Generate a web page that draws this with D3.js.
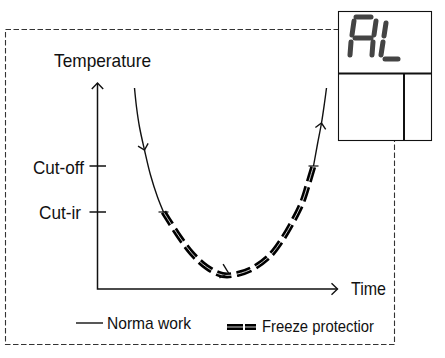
<!DOCTYPE html>
<html>
<head>
<meta charset="utf-8">
<script src="https://cdn.jsdelivr.net/npm/d3@7"></script>
<style>
  html, body { margin: 0; padding: 0; background: #fff; }
  svg { display: block; }
  text { font-family: "Liberation Sans", Arial, sans-serif; fill: #111; }
</style>
</head>
<body>
<svg class="chart"></svg>
<script>
// curve: [time, temperature], axis origin = 0,0
const normalCool = [[37, 201], [39, 182], [42, 162], [47, 139], [53, 114], [60, 92], [66, 77]];
const freezeCool = [[66, 77], [71, 69], [82, 52], [94, 36], [109, 22], [125, 14], [140, 15]];
const freezeHeat = [[140, 15], [156, 21], [173, 34], [185, 50], [195, 67], [204, 85], [210, 103], [216, 123]];
const normalHeat = [[216, 123], [220, 145], [224, 166], [227, 186], [229, 201]];
const tempTicks = [{ label: "Cut-off", value: 123 }, { label: "Cut-ir", value: 77 }];

const width = 445;
const height = 358;

const svg = d3.select('.chart')
    .attr('width', width)
    .attr('height', height);

const x = d3.scaleLinear().domain([0, 240]).range([97.5, 337.5]);
const y = d3.scaleLinear().domain([0, 206]).range([289, 83]);

const line = d3.line()
    .x(d => x(d[0]))
    .y(d => y(d[1]))
    .curve(d3.curveCatmullRom);

// dashed outer frame
svg.append('rect')
    .attr('x', 5.5).attr('y', 29.5)
    .attr('width', 389).attr('height', 315)
    .attr('fill', 'none')
    .attr('stroke', '#333')
    .attr('stroke-width', 1.1)
    .attr('stroke-dasharray', '5.5 2.5');

// axes
const axisColor = '#111';
svg.append('path')
    .attr('d', `M${x(0)},${y(206)}V${y(0)}H${x(240)}`)
    .attr('fill', 'none')
    .attr('stroke', axisColor)
    .attr('stroke-width', 1.5);

function chevron(px, py, angle, size) {
    svg.append('path')
        .attr('d', `M${-size},${-size * 0.95}L0,0L${-size},${size * 0.95}`)
        .attr('transform', `translate(${px},${py}) rotate(${angle})`)
        .attr('fill', 'none')
        .attr('stroke', axisColor)
        .attr('stroke-width', 1.4);
}
chevron(x(0), y(206), -90, 6);
chevron(x(240), y(0), 0, 6);

tempTicks.forEach(t => {
    svg.append('line')
        .attr('x1', x(0) - 8).attr('x2', x(0) + 8.5)
        .attr('y1', y(t.value)).attr('y2', y(t.value))
        .attr('stroke', axisColor)
        .attr('stroke-width', 1.5);
});

// normal work
[normalCool, normalHeat].forEach(d => {
    svg.append('path')
        .attr('d', line(d))
        .attr('fill', 'none')
        .attr('stroke', '#111')
        .attr('stroke-width', 1.4);
});

// freeze protection: thick dashes split by a thin white line
function doubleDash(sel, d, dash) {
    sel.append('path')
        .attr('d', d)
        .attr('fill', 'none')
        .attr('stroke', '#000')
        .attr('stroke-width', 6)
        .attr('stroke-dasharray', dash);
    sel.append('path')
        .attr('d', d)
        .attr('fill', 'none')
        .attr('stroke', '#fff')
        .attr('stroke-width', 0.8);
}
doubleDash(svg.append('g'), line(freezeCool.concat(freezeHeat.slice(1))), '15 5.5');

// small caps where the curve changes style
[freezeCool[0], freezeHeat[freezeHeat.length - 1]].forEach(p => {
    svg.append('line')
        .attr('x1', x(p[0]) - 5).attr('x2', x(p[0]) + 5)
        .attr('y1', y(p[1])).attr('y2', y(p[1]))
        .attr('stroke', '#111')
        .attr('stroke-width', 1.2);
});

// direction arrows on the curve
chevron(x(47), y(139), 75, 5.5);
chevron(x(131), y(16), 15, 7.5);
chevron(x(224), y(166), -80, 5.5);

// labels
const label = (tx, ty, s, size, len) => svg.append('text')
    .attr('x', tx).attr('y', ty)
    .attr('font-size', size)
    .attr('textLength', len)
    .attr('lengthAdjust', 'spacingAndGlyphs')
    .text(s);

label(54, 67, 'Temperature', 19, 97);
label(33, 174, 'Cut-off', 19, 51);
label(39, 219, 'Cut-ir', 19, 42);
label(351, 295, 'Time', 19, 35);

// legend
svg.append('line')
    .attr('x1', 76).attr('x2', 103)
    .attr('y1', 323).attr('y2', 323)
    .attr('stroke', '#111')
    .attr('stroke-width', 1.4);
label(107, 329, 'Norma  work', 17, 84);

doubleDash(svg.append('g'), 'M227,327H256', '16 2 11');
label(262, 332, 'Freeze  protectior', 17, 112);

// display box
const box = svg.append('g')
    .attr('fill', 'none')
    .attr('stroke', '#111');
box.append('rect')
    .attr('x', 338.5).attr('y', 11.5)
    .attr('width', 93).attr('height', 129)
    .attr('fill', '#fff')
    .attr('stroke-width', 1.1);
box.append('line')
    .attr('x1', 338).attr('x2', 432)
    .attr('y1', 73.5).attr('y2', 73.5)
    .attr('stroke-width', 2);
box.append('line')
    .attr('x1', 404).attr('x2', 404)
    .attr('y1', 73).attr('y2', 141)
    .attr('stroke-width', 2);

// seven segment "AL"
const segments = [
    [356, 17, 371, 17], [354, 21, 352, 35], [376, 21, 374, 35], [355, 38, 371, 38],
    [351, 42, 350, 55], [373, 42, 372, 55],
    [386, 23, 384, 36], [383, 42, 381, 55], [385, 59, 398, 59]
];
svg.append('g').selectAll('line')
    .data(segments)
    .enter().append('line')
    .attr('x1', d => d[0]).attr('y1', d => d[1])
    .attr('x2', d => d[2]).attr('y2', d => d[3])
    .attr('stroke', '#444')
    .attr('stroke-width', 5)
    .attr('stroke-linecap', 'round');
</script>
</body>
</html>
